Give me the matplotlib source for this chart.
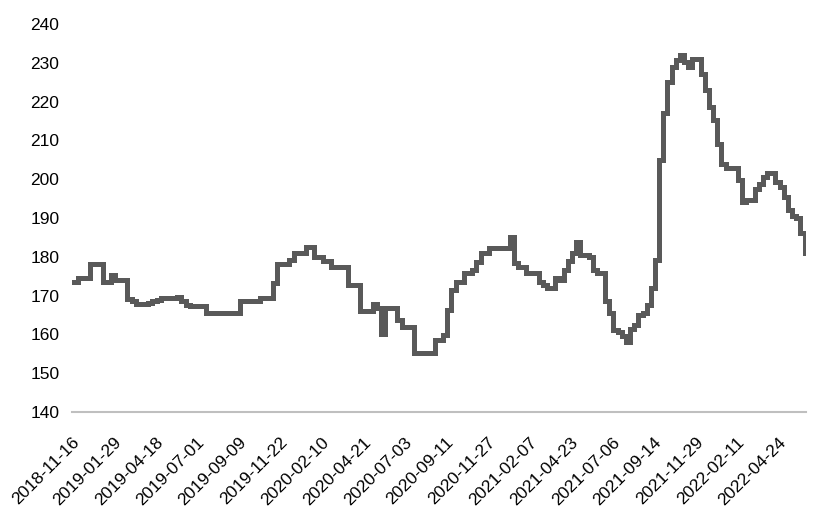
import matplotlib.pyplot as plt
import matplotlib.transforms as mtransforms
import numpy as np

plt.rcParams['font.family'] = ['Liberation Sans', 'DejaVu Sans']

# Valeurs (un point tous les 5 jours de cotation)
values = [
    173.6, 174.5, 174.5, 174.5, 178.1, 178.1, 178.1, 173.6, 173.6, 175.3,
    174.0, 174.0, 174.0, 169.0, 168.5, 167.8, 167.8, 167.8, 168.0, 168.6,
    168.8, 169.3, 169.4, 169.5, 169.5, 169.6, 168.5, 167.6, 167.4, 167.4,
    167.4, 167.4, 165.5, 165.4, 165.4, 165.4, 165.4, 165.4, 165.4, 165.4,
    168.6, 168.6, 168.6, 168.7, 168.7, 169.3, 169.3, 169.3, 173.2, 178.1,
    178.1, 178.1, 179.2, 181.1, 181.1, 181.1, 182.4, 182.4, 180.0, 180.0,
    179.0, 179.0, 177.4, 177.4, 177.4, 177.4, 172.7, 172.7, 172.7, 165.9,
    165.9, 165.9, 167.8, 166.7, 160.1, 166.7, 166.7, 166.7, 163.7, 162.0,
    162.0, 162.0, 155.1, 155.1, 155.1, 155.1, 155.1, 158.6, 158.6, 159.8,
    166.3, 171.5, 173.6, 173.6, 175.7, 175.7, 176.6, 178.6, 180.9, 180.9,
    182.2, 182.2, 182.2, 182.2, 182.2, 185.2, 178.3, 177.4, 177.4, 175.7,
    175.7, 175.7, 173.6, 172.8, 171.9, 171.9, 174.5, 174.0, 176.5, 179.0,
    180.9, 183.9, 180.5, 180.5, 180.0, 176.6, 175.7, 175.7, 168.5, 165.5,
    161.1, 160.5, 159.5, 158.1, 161.5, 162.4, 165.0, 165.4, 167.5, 172.0,
    179.2, 205.0, 217.0, 225.0, 229.0, 230.7, 232.0, 230.3, 229.0, 231.1,
    230.9, 227.0, 223.0, 218.5, 215.3, 209.0, 204.0, 202.9, 202.9, 202.9,
    199.8, 194.1, 194.6, 194.6, 197.5, 198.8, 200.5, 201.6, 201.6, 199.3,
    198.0, 195.4, 192.0, 190.6, 190.0, 186.1, 181.0,
]
step = 5
tick_labels = [
    '2018-11-16', '2019-01-29', '2019-04-18', '2019-07-01', '2019-09-09',
    '2019-11-22', '2020-02-10', '2020-04-21', '2020-07-03', '2020-09-11',
    '2020-11-27', '2021-02-07', '2021-04-23', '2021-07-06', '2021-09-14',
    '2021-11-29', '2022-02-11', '2022-04-24',
]
tick_every = 50

x = np.arange(len(values)) * step

fig = plt.figure(figsize=(8.16, 5.32), dpi=100)
ax = fig.add_axes([0.088, 0.2256, 0.900, 0.7293])

ax.plot(x, values, color='#595959', linewidth=3.6, drawstyle='steps-post',
        solid_joinstyle='miter')

ax.set_ylim(140, 240)
ax.set_yticks(np.arange(140, 241, 10))
ax.set_xlim(-2, x[-1] + 2)
ax.set_xticks(np.arange(len(tick_labels)) * tick_every)
ax.set_xticklabels(tick_labels, rotation=45, ha='right', va='center',
                   rotation_mode='anchor')

ax.tick_params(axis='y', length=0, pad=9, labelsize=12.5)
ax.tick_params(axis='x', length=0, pad=20, labelsize=12.5)

# petit décalage à droite des dates
offset = mtransforms.ScaledTranslation(4 / 100, 0, fig.dpi_scale_trans)
for lbl in ax.get_xticklabels():
    lbl.set_transform(lbl.get_transform() + offset)

for side in ['top', 'right', 'left']:
    ax.spines[side].set_visible(False)
ax.spines['bottom'].set_color('#BFBFBF')
ax.spines['bottom'].set_linewidth(1.5)

plt.savefig('out.png', dpi=100)
